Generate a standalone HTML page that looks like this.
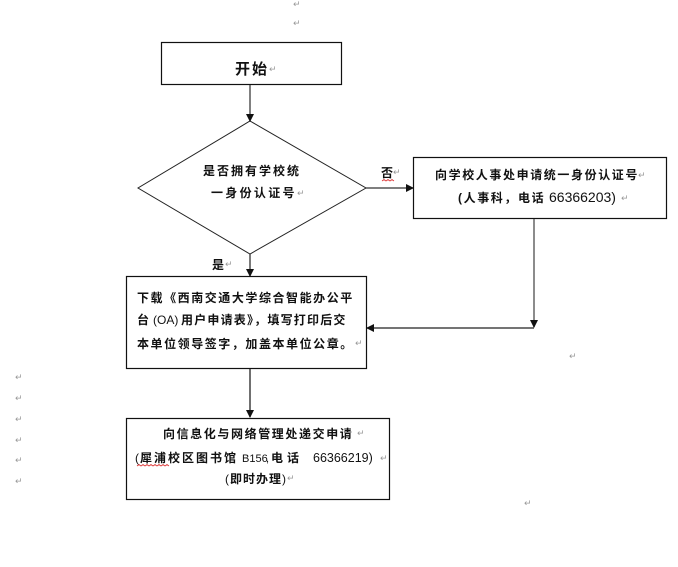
<!DOCTYPE html>
<html><head><meta charset="utf-8"><style>
html,body{margin:0;padding:0;background:#fff;}
svg{display:block;}
.c{font-family:"Liberation Sans","Noto Sans CJK SC",sans-serif;font-weight:bold;fill:#111;}
.l{font-family:"Liberation Sans",sans-serif;fill:#111;}
.r{font-family:"Liberation Sans","DejaVu Sans",sans-serif;fill:#999;font-size:9px;}
</style></head><body>
<svg width="678" height="567" viewBox="0 0 678 567" xmlns="http://www.w3.org/2000/svg">
<defs>
<marker id="a" markerWidth="8" markerHeight="8" refX="7" refY="4" orient="auto" markerUnits="userSpaceOnUse">
<path d="M0,0 L8,4 L0,8 z" fill="#111"/>
</marker>
</defs>
<rect width="678" height="567" fill="#fff"/>
<!-- boxes -->
<rect x="161.5" y="42.5" width="180" height="42" fill="none" stroke="#111" stroke-width="1.2"/>
<polygon points="250,121 366,188 250,254 138,188" fill="none" stroke="#222" stroke-width="1"/>
<rect x="413.5" y="157.5" width="253" height="61" fill="none" stroke="#111" stroke-width="1.2"/>
<rect x="126.5" y="276.5" width="240" height="92" fill="none" stroke="#111" stroke-width="1.2"/>
<rect x="126.5" y="418.5" width="263" height="81" fill="none" stroke="#111" stroke-width="1.2"/>
<!-- connectors -->
<line x1="250" y1="85" x2="250" y2="121" stroke="#555" stroke-width="1.5" marker-end="url(#a)"/>
<line x1="366" y1="188" x2="413" y2="188" stroke="#333" stroke-width="1.3" marker-end="url(#a)"/>
<line x1="250" y1="254" x2="250" y2="276" stroke="#333" stroke-width="1.3" marker-end="url(#a)"/>
<line x1="534" y1="219" x2="534" y2="327" stroke="#666" stroke-width="1.5" marker-end="url(#a)"/>
<line x1="534" y1="328" x2="367" y2="328" stroke="#222" stroke-width="1.3" marker-end="url(#a)"/>
<line x1="250" y1="369" x2="250" y2="417" stroke="#222" stroke-width="1.3" marker-end="url(#a)"/>
<!-- spell marks -->
<path d="M382,181 l2,-1.5 l2,1.5 l2,-1.5 l2,1.5 l2,-1.5 l2,1.5" fill="none" stroke="#d33" stroke-width="0.8"/>
<path d="M137,466 l2,-1.5 l2,1.5 l2,-1.5 l2,1.5 l2,-1.5 l2,1.5 l2,-1.5 l2,1.5 l2,-1.5 l2,1.5 l2,-1.5 l2,1.5 l2,-1.5 l2,1.5 l2,-1.5 l2,1.5" fill="none" stroke="#d33" stroke-width="0.8"/>
<!-- texts -->
<text class="c" x="235" y="74" font-size="15" letter-spacing="2">开始</text><text class="r" x="269" y="72">↵</text>
<text class="c" x="203" y="175" font-size="12" letter-spacing="2">是否拥有学校统</text>
<text class="c" x="211" y="197" font-size="12" letter-spacing="2.3">一身份认证号</text><text class="r" x="297" y="196">↵</text>
<text class="c" x="381" y="177" font-size="12">否</text><text class="r" x="393" y="175">↵</text>
<text class="c" x="435" y="179" font-size="12" letter-spacing="1.6">向学校人事处申请统一身份认证号</text><text class="r" x="638" y="178">↵</text>
<text class="c" x="458" y="202" font-size="12" letter-spacing="1.6">(人事科，电话</text>
<text class="l" x="549" y="202" font-size="14">66366203)</text><text class="r" x="621" y="201">↵</text>
<text class="c" x="212" y="269" font-size="12">是</text><text class="r" x="225" y="267">↵</text>
<text class="c" x="137" y="302" font-size="12" letter-spacing="1.55">下载《西南交通大学综合智能办公平</text>
<text class="c" x="137" y="324" font-size="12">台</text>
<text class="l" x="153" y="324" font-size="12">(OA)</text>
<text class="c" x="181" y="324" font-size="12" letter-spacing="1.2">用户申请表》，填写打印后交</text>
<text class="c" x="137" y="348" font-size="12" letter-spacing="1.55">本单位领导签字，加盖本单位公章。</text><text class="r" x="355" y="346">↵</text>
<text class="c" x="163" y="438" font-size="12" letter-spacing="1.6">向信息化与网络管理处递交申请</text><text class="r" x="357" y="436">↵</text>
<text class="l" x="135" y="462" font-size="12">(</text>
<text class="c" x="140" y="462" font-size="12" letter-spacing="2">犀浦校区图书馆</text>
<text class="l" x="242" y="462" font-size="11">B156</text>
<text class="l" x="266" y="462" font-size="11">,</text>
<text class="c" x="271" y="462" font-size="12" letter-spacing="4">电话</text>
<text class="l" x="313" y="462" font-size="12.5">66366219)</text><text class="r" x="380" y="461">↵</text>
<text class="l" x="225" y="483" font-size="12">(</text>
<text class="c" x="230" y="483" font-size="12" letter-spacing="1">即时办理</text>
<text class="l" x="282" y="483" font-size="12">)</text><text class="r" x="287" y="481">↵</text>
<!-- stray return marks -->
<text class="r" x="293" y="7">↵</text>
<text class="r" x="293" y="26">↵</text>
<text class="r" x="15" y="380">↵</text>
<text class="r" x="15" y="401">↵</text>
<text class="r" x="15" y="422">↵</text>
<text class="r" x="15" y="443">↵</text>
<text class="r" x="15" y="463">↵</text>
<text class="r" x="15" y="484">↵</text>
<text class="r" x="569" y="359">↵</text>
<text class="r" x="524" y="506">↵</text>
</svg>
</body></html>
